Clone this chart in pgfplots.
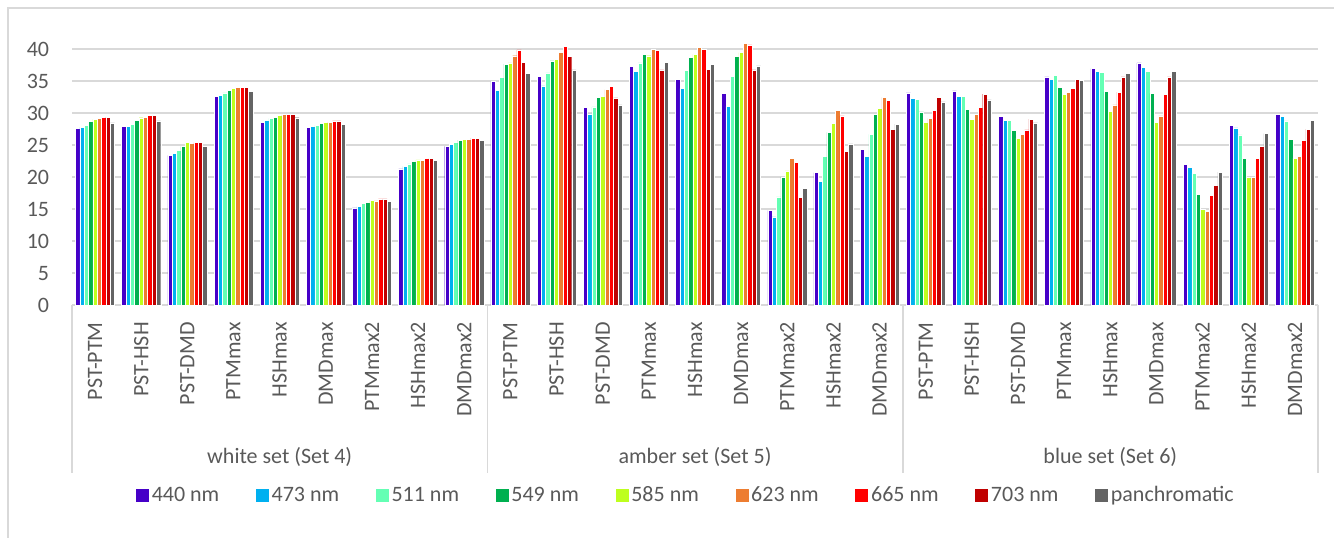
\documentclass[border=0pt]{standalone}
\usepackage{pgfplots}
\pgfplotsset{compat=1.18}
\usepackage{pgfplotstable}
\usepackage{fontspec}
\setmainfont{Carlito}
\definecolor{cA}{RGB}{70,0,200}
\definecolor{cB}{RGB}{0,176,240}
\definecolor{cC}{RGB}{100,255,180}
\definecolor{cD}{RGB}{0,176,80}
\definecolor{cE}{RGB}{190,255,30}
\definecolor{cF}{RGB}{237,125,49}
\definecolor{cG}{RGB}{255,0,0}
\definecolor{cH}{RGB}{192,0,0}
\definecolor{cI}{RGB}{100,100,100}
\definecolor{txt}{RGB}{89,89,89}
\definecolor{gridc}{RGB}{217,217,217}
\pgfplotstableread{
x a b c d e f g h p
0 27.6 27.8 28.1 28.7 29.1 29.2 29.4 29.4 28.5
1 27.9 28.0 28.3 28.9 29.3 29.4 29.7 29.7 28.8
2 23.4 23.7 24.2 24.8 25.4 25.3 25.4 25.4 24.8
3 32.7 32.8 33.2 33.6 33.9 34.1 34.1 34.0 33.4
4 28.6 28.9 29.2 29.4 29.7 29.8 29.8 29.8 29.3
5 27.8 27.9 28.1 28.4 28.6 28.6 28.8 28.8 28.3
6 15.2 15.4 15.9 16.1 16.4 16.3 16.6 16.6 16.2
7 21.3 21.7 22.1 22.5 22.7 22.6 22.9 22.9 22.6
8 24.8 25.1 25.5 25.8 25.9 25.9 26.1 26.1 25.8
9 35.0 33.6 35.6 37.7 37.9 39.0 39.9 38.0 36.2
10 35.8 34.3 36.3 38.2 38.4 39.5 40.5 38.9 36.8
11 30.9 29.9 31.0 32.5 32.7 33.7 34.2 32.4 31.3
12 37.3 36.5 37.9 39.2 39.0 40.0 39.8 36.8 38.0
13 35.3 33.9 36.7 38.8 39.2 40.3 40.0 36.9 37.6
14 33.1 31.1 35.8 38.9 39.5 40.9 40.7 36.8 37.4
15 14.8 13.8 16.9 20.0 21.0 23.0 22.3 16.8 18.2
16 20.7 19.4 23.2 27.0 28.4 30.4 29.6 24.0 25.2
17 24.4 23.2 26.7 29.8 30.8 32.5 32.0 27.5 28.3
18 33.2 32.3 32.2 30.2 28.6 29.2 30.4 32.5 31.8
19 33.5 32.7 32.6 30.6 29.1 29.8 30.9 33.0 32.1
20 29.5 28.9 28.9 27.3 26.1 26.7 27.4 29.1 28.5
21 35.7 35.3 35.9 34.0 32.9 33.3 33.9 35.3 35.1
22 37.0 36.6 36.4 33.4 30.3 31.3 33.3 35.7 36.2
23 37.9 37.2 36.5 33.1 28.6 29.6 33.0 35.7 36.6
24 22.0 21.5 20.6 17.3 15.0 14.6 17.2 18.7 20.8
25 28.1 27.7 26.6 23.0 20.0 20.0 23.0 24.8 26.8
26 29.8 29.5 28.8 25.9 23.0 23.3 25.8 27.5 28.9
}\datatable
\begin{document}
\begin{tikzpicture}[x=0.75pt,y=0.75pt]
\useasboundingbox (0,0) rectangle (1334,538);
\draw[gridc, line width=2pt] (8,0) -- (8,530) -- (1334,530);
\begin{axis}[
  at={(54pt,174.75pt)}, anchor=south west,
  scale only axis, width=934.5pt, height=215.7pt,
  xmin=-0.5, xmax=26.5, ymin=0, ymax=45,
  ybar=0pt, bar width=0.094,
  axis line style={draw=none},
  major tick length=0pt,
  ytick={0,5,...,40},
  ymajorgrids, major grid style={gridc, line width=1.3pt},
  xtick={0,...,26},
  xticklabels={PST-PTM,PST-HSH,PST-DMD,PTMmax,HSHmax,DMDmax,PTMmax2,HSHmax2,DMDmax2,PST-PTM,PST-HSH,PST-DMD,PTMmax,HSHmax,DMDmax,PTMmax2,HSHmax2,DMDmax2,PST-PTM,PST-HSH,PST-DMD,PTMmax,HSHmax,DMDmax,PTMmax2,HSHmax2,DMDmax2},
  xticklabel style={yshift=-12.75pt, rotate=90, anchor=east, inner sep=0pt},
  yticklabel style={anchor=east, inner sep=0pt, xshift=-17pt},
  tick label style={font=\fontsize{16.5}{19}\selectfont, text=txt},
  /pgf/number format/assume math mode=true,
  legend image code/.code={\path[#1,draw=none] (0pt,-4.9pt) rectangle (9.75pt,4.9pt);},
  legend style={at={(0.493,-0.661)}, anchor=center, draw=none, fill=none,
    legend columns=9, font=\fontsize{16.5}{19}\selectfont, text=txt,
    /tikz/every odd column/.append style={column sep=0pt},
    /tikz/every even column/.append style={column sep=25.5pt}},
  every axis plot/.append style={draw=white, line width=0.35pt},
  clip=false,
]
\addplot[fill=cA] table[x=x,y=a]{\datatable};
\addplot[fill=cB] table[x=x,y=b]{\datatable};
\addplot[fill=cC] table[x=x,y=c]{\datatable};
\addplot[fill=cD] table[x=x,y=d]{\datatable};
\addplot[fill=cE] table[x=x,y=e]{\datatable};
\addplot[fill=cF] table[x=x,y=f]{\datatable};
\addplot[fill=cG] table[x=x,y=g]{\datatable};
\addplot[fill=cH] table[x=x,y=h]{\datatable};
\addplot[fill=cI] table[x=x,y=p]{\datatable};
\legend{440 nm,473 nm,511 nm,549 nm,585 nm,623 nm,665 nm,703 nm,panchromatic}
\end{axis}
\foreach \xx in {72,487.4,902.7,1318} {\draw[gridc, line width=1.3pt] (\xx,233) -- (\xx,65);}
\node[text=txt, font=\fontsize{16.5}{19}\selectfont] at (279.7,81) {white set (Set 4)};
\node[text=txt, font=\fontsize{16.5}{19}\selectfont] at (695,81) {amber set (Set 5)};
\node[text=txt, font=\fontsize{16.5}{19}\selectfont] at (1110.3,81) {blue set (Set 6)};
\end{tikzpicture}
\end{document}
